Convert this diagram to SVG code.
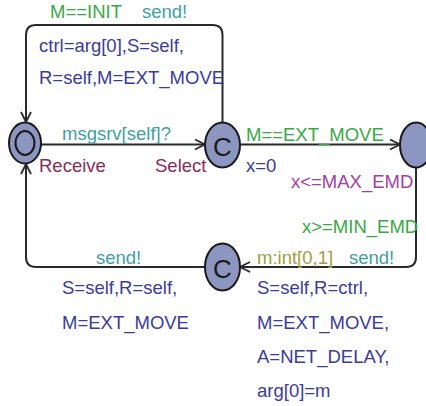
<svg xmlns="http://www.w3.org/2000/svg" width="426" height="406" viewBox="0 0 426 406">
<style>
text{font-family:"Liberation Sans",Arial,sans-serif;font-size:18.5px}
.g{fill:#3aa845}.t{fill:#3f9f9f}.b{fill:#3b3b9b}.m{fill:#8a2b5a}.p{fill:#a33ea3}.o{fill:#a0a03a}
.node{fill:#8c96c0;stroke:#1a1a1a;stroke-width:2}
.edge{fill:none;stroke:#2a2a2a;stroke-width:2}
.lbl{font-size:26px;fill:#1a1a1a}
</style>
<defs>
<marker id="arr" viewBox="0 0 12 12" refX="11" refY="6" markerWidth="12" markerHeight="12" markerUnits="userSpaceOnUse" orient="auto">
<path d="M1,1 L11,6 L1,11" fill="none" stroke="#2a2a2a" stroke-width="1.8"/>
</marker>
</defs>
<rect width="426" height="406" fill="#fff"/>
<g id="edges">
<path class="edge" d="M222.5,123 V35 Q222.5,25 212.5,25 H36 Q26,25 26,35 V122" marker-end="url(#arr)"/>
<path class="edge" d="M41,144.5 H205" marker-end="url(#arr)"/>
<path class="edge" d="M240,144.5 H400" marker-end="url(#arr)"/>
<path class="edge" d="M416,167 V257 Q416,267 406,267 H240" marker-end="url(#arr)"/>
<path class="edge" d="M205,267 H36 Q26,267 26,257 V164" marker-end="url(#arr)"/>
</g>
<g id="receive">
<ellipse class="node" cx="25" cy="143" rx="16" ry="20.5"/>
<ellipse class="node" cx="25" cy="143" rx="9.5" ry="12"/>
<text class="m" x="39" y="172">Receive</text>
</g>
<g id="select">
<ellipse class="node" cx="222.5" cy="145" rx="17.5" ry="22.5"/>
<text class="lbl" x="222.5" y="155.5" text-anchor="middle">C</text>
<text class="m" x="155" y="172">Select</text>
</g>
<g id="wait">
<ellipse class="node" cx="416" cy="145" rx="16" ry="22.5"/>
</g>
<g id="send">
<ellipse class="node" cx="222.5" cy="267" rx="17.5" ry="23.5"/>
<text class="lbl" x="222.5" y="277.5" text-anchor="middle">C</text>
</g>
<g id="labels">
<text class="g" x="50" y="18">M==INIT</text>
<text class="t" x="142" y="18">send!</text>
<text class="b" x="39" y="52">ctrl=arg[0],S=self,</text>
<text class="b" x="39" y="84">R=self,M=EXT_MOVE</text>
<text class="t" x="62" y="140">msgsrv[self]?</text>
<text class="g" x="246" y="141">M==EXT_MOVE</text>
<text class="b" x="246" y="172">x=0</text>
<text class="p" x="291" y="188">x&lt;=MAX_EMD</text>
<text class="g" x="302" y="233">x&gt;=MIN_EMD</text>
<text class="t" x="96" y="264">send!</text>
<text class="o" x="257" y="264">m:int[0,1]</text>
<text class="t" x="349" y="264">send!</text>
<text class="b" x="62" y="294">S=self,R=self,</text>
<text class="b" x="62" y="329">M=EXT_MOVE</text>
<text class="b" x="257" y="294">S=self,R=ctrl,</text>
<text class="b" x="257" y="329">M=EXT_MOVE,</text>
<text class="b" x="257" y="363">A=NET_DELAY,</text>
<text class="b" x="257" y="397">arg[0]=m</text>
</g>
</svg>
